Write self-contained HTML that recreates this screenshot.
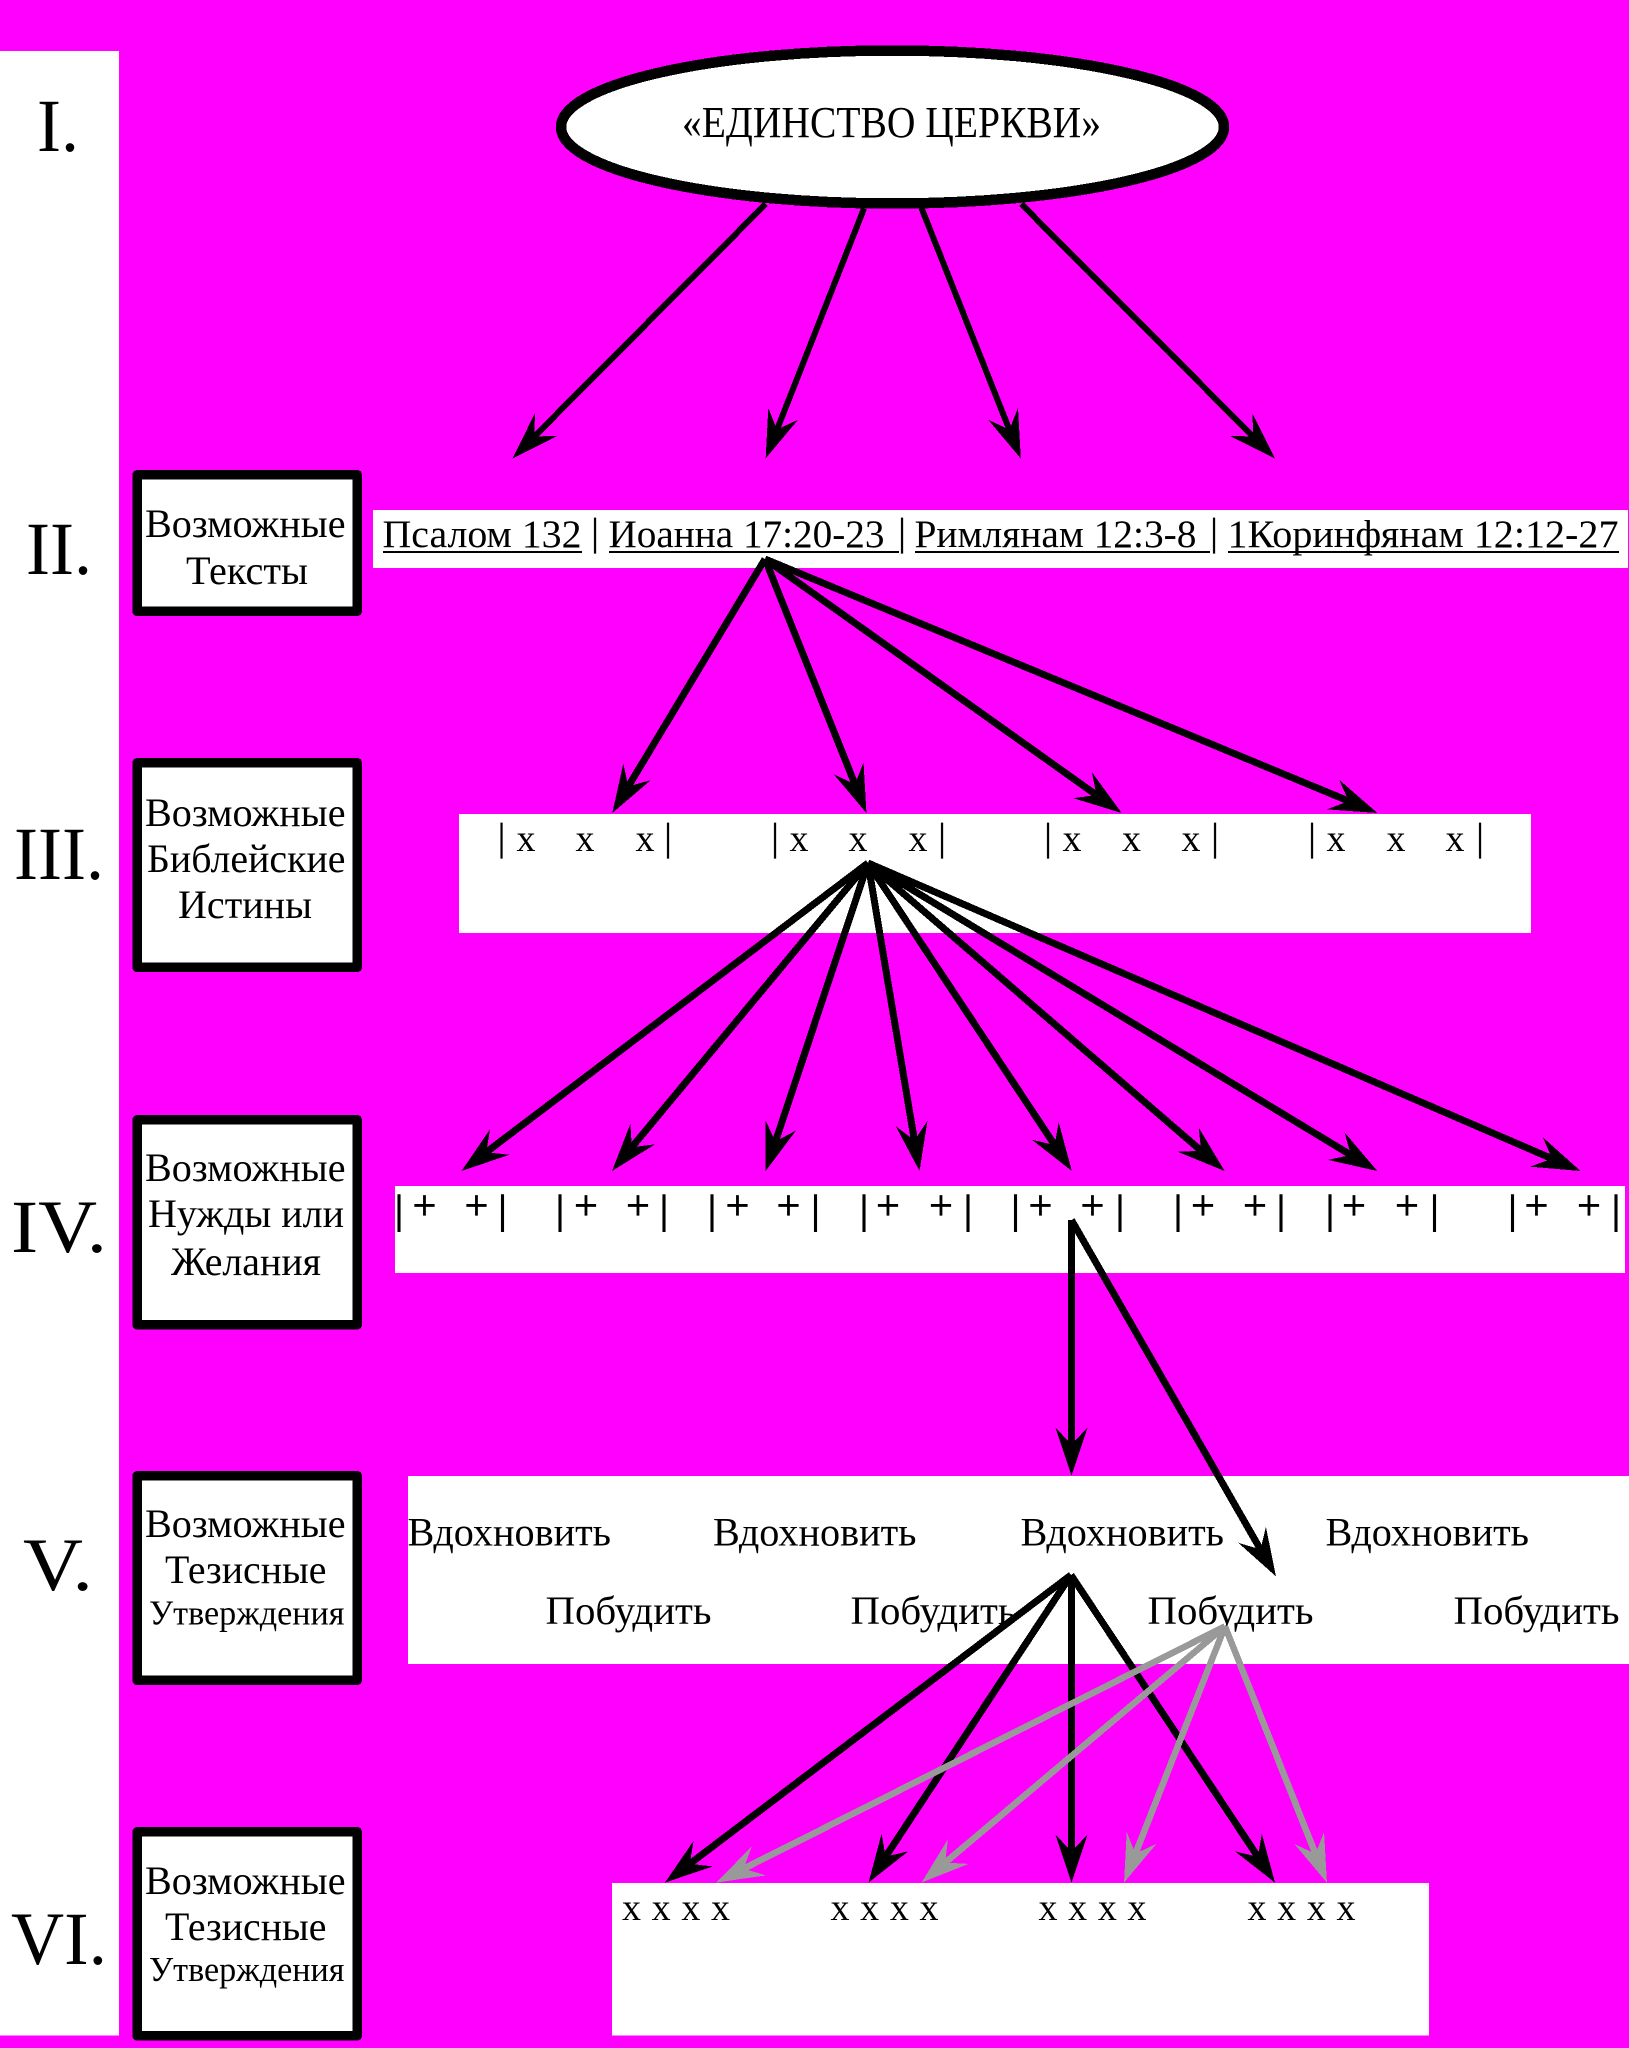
<!DOCTYPE html>
<html lang="ru">
<head>
<meta charset="utf-8">
<title>Единство церкви</title>
<style>
html,body{margin:0;padding:0;background:#f0f}
svg{display:block}
text{font-family:"Liberation Serif","DejaVu Serif",serif;fill:#000}
.t{font-size:40px}
.u{font-size:35px}
.n{font-size:75px}
.h{font-size:44px}
.p{font-size:39px}
.x{font-size:38px;text-anchor:middle}
.bar{font-size:39px;text-anchor:middle;stroke:#000;stroke-width:.3}
.pl{font-size:42px;text-anchor:middle;stroke:#000;stroke-width:.7}
.pp{font-size:40px;text-anchor:middle;stroke:#000;stroke-width:1.1}
.b{fill:#fff;stroke:#000;stroke-width:9.5;stroke-linejoin:round;shape-rendering:crispEdges}
.a{fill:none;stroke:#000;shape-rendering:crispEdges}
.g{fill:none;stroke:#999;stroke-width:6.5;shape-rendering:crispEdges}
.mk{marker-end:url(#mb)}
.mg{marker-end:url(#mc)}
</style>
</head>
<body>
<svg xmlns="http://www.w3.org/2000/svg" width="1629" height="2048" viewBox="0 0 1629 2048">
<defs>
<marker id="mb" markerUnits="userSpaceOnUse" markerWidth="60" markerHeight="40" refX="23" refY="16" orient="auto" overflow="visible"><polygon points="0,0 48,16 0,32 17,16" fill="#000" shape-rendering="crispEdges"/></marker>
<marker id="mc" markerUnits="userSpaceOnUse" markerWidth="60" markerHeight="40" refX="23" refY="16" orient="auto" overflow="visible"><polygon points="0,0 48,16 0,32 17,16" fill="#999" shape-rendering="crispEdges"/></marker>
</defs>
<rect width="1629" height="2048" fill="#f0f"/>
<rect x="0" y="51" width="119" height="1984.5" fill="#fff"/>

<!-- white bars -->
<rect x="373" y="510" width="1255" height="58" fill="#fff"/>
<rect x="459" y="814" width="1072" height="119" fill="#fff"/>
<rect x="395" y="1186" width="1230" height="87" fill="#fff"/>
<rect x="408" y="1476" width="1221" height="188" fill="#fff"/>
<rect x="612" y="1883" width="817" height="152.5" fill="#fff"/>

<!-- numerals -->
<text class="n" x="37" y="151" textLength="42" lengthAdjust="spacingAndGlyphs">I.</text>
<text class="n" x="26" y="574" textLength="66" lengthAdjust="spacingAndGlyphs">II.</text>
<text class="n" x="14" y="879" textLength="90" lengthAdjust="spacingAndGlyphs">III.</text>
<text class="n" x="11" y="1252" textLength="96" lengthAdjust="spacingAndGlyphs">IV.</text>
<text class="n" x="23" y="1590" textLength="70" lengthAdjust="spacingAndGlyphs">V.</text>
<text class="n" x="11" y="1964" textLength="96" lengthAdjust="spacingAndGlyphs">VI.</text>

<!-- label boxes -->
<rect class="b" x="137.2" y="474.8" width="220" height="136.5"/>
<rect class="b" x="137.2" y="762.8" width="220" height="204.5"/>
<rect class="b" x="137.2" y="1119.8" width="220" height="205"/>
<rect class="b" x="137.2" y="1475.8" width="220" height="204.5"/>
<rect class="b" x="137.2" y="1831.8" width="220" height="204"/>

<text class="t" x="145" y="537" textLength="200.5" lengthAdjust="spacingAndGlyphs">Возможные</text>
<text class="t" x="186" y="584" textLength="122" lengthAdjust="spacingAndGlyphs">Тексты</text>
<text class="t" x="145" y="826" textLength="200.5" lengthAdjust="spacingAndGlyphs">Возможные</text>
<text class="t" x="147" y="872" textLength="198.5" lengthAdjust="spacingAndGlyphs">Библейские</text>
<text class="t" x="178" y="918" textLength="134" lengthAdjust="spacingAndGlyphs">Истины</text>
<text class="t" x="145" y="1181" textLength="200.5" lengthAdjust="spacingAndGlyphs">Возможные</text>
<text class="t" x="148" y="1227" textLength="196" lengthAdjust="spacingAndGlyphs">Нужды или</text>
<text class="t" x="171" y="1275" textLength="150" lengthAdjust="spacingAndGlyphs">Желания</text>
<text class="t" x="145" y="1537" textLength="200.5" lengthAdjust="spacingAndGlyphs">Возможные</text>
<text class="t" x="165" y="1583" textLength="161.5" lengthAdjust="spacingAndGlyphs">Тезисные</text>
<text class="u" x="149" y="1624.5" textLength="195.5" lengthAdjust="spacingAndGlyphs">Утверждения</text>
<text class="t" x="145" y="1894" textLength="200.5" lengthAdjust="spacingAndGlyphs">Возможные</text>
<text class="t" x="165" y="1940" textLength="161.5" lengthAdjust="spacingAndGlyphs">Тезисные</text>
<text class="u" x="149" y="1981" textLength="195.5" lengthAdjust="spacingAndGlyphs">Утверждения</text>

<!-- level II -->
<text class="p" x="382.5" y="547" textLength="199" lengthAdjust="spacingAndGlyphs">Псалом 132</text>
<text class="p" x="608.5" y="547" textLength="276" lengthAdjust="spacingAndGlyphs">Иоанна 17:20-23</text>
<text class="p" x="914.5" y="547" textLength="282" lengthAdjust="spacingAndGlyphs">Римлянам 12:3-8</text>
<text class="p" x="1227.5" y="547" textLength="391" lengthAdjust="spacingAndGlyphs">1Коринфянам 12:12-27</text>
<text class="bar" x="595" y="545">|</text><text class="bar" x="902" y="545">|</text><text class="bar" x="1214" y="545">|</text>
<rect x="383" y="551" width="199" height="2"/>
<rect x="609" y="551" width="290" height="2"/>
<rect x="915" y="551" width="295" height="2"/>
<rect x="1228" y="551" width="391" height="2"/>

<!-- level III -->
<text class="bar" x="501.5" y="850">|</text><text class="x" x="526" y="851">x</text><text class="x" x="585" y="851">x</text><text class="x" x="645" y="851">x</text><text class="bar" x="668" y="850">|</text>
<text class="bar" x="775" y="850">|</text><text class="x" x="799" y="851">x</text><text class="x" x="858" y="851">x</text><text class="x" x="918" y="851">x</text><text class="bar" x="942" y="850">|</text>
<text class="bar" x="1048" y="850">|</text><text class="x" x="1072" y="851">x</text><text class="x" x="1131.5" y="851">x</text><text class="x" x="1191" y="851">x</text><text class="bar" x="1215" y="850">|</text>
<text class="bar" x="1312" y="850">|</text><text class="x" x="1336" y="851">x</text><text class="x" x="1396" y="851">x</text><text class="x" x="1455" y="851">x</text><text class="bar" x="1480" y="850">|</text>

<!-- level IV -->
<text class="pp" x="399" y="1223">|</text><text class="pl" x="424.5" y="1219.5">+</text><text class="pl" x="476.5" y="1219.5">+</text><text class="pp" x="502.5" y="1223">|</text>
<text class="pp" x="560" y="1223">|</text><text class="pl" x="586" y="1219.5">+</text><text class="pl" x="638" y="1219.5">+</text><text class="pp" x="664" y="1223">|</text>
<text class="pp" x="712" y="1223">|</text><text class="pl" x="737.5" y="1219.5">+</text><text class="pl" x="788.5" y="1219.5">+</text><text class="pp" x="815.5" y="1223">|</text>
<text class="pp" x="864" y="1223">|</text><text class="pl" x="888" y="1219.5">+</text><text class="pl" x="941" y="1219.5">+</text><text class="pp" x="968" y="1223">|</text>
<text class="pp" x="1015.5" y="1223">|</text><text class="pl" x="1040.5" y="1219.5">+</text><text class="pl" x="1092.5" y="1219.5">+</text><text class="pp" x="1120" y="1223">|</text>
<text class="pp" x="1178" y="1223">|</text><text class="pl" x="1203" y="1219.5">+</text><text class="pl" x="1255" y="1219.5">+</text><text class="pp" x="1281" y="1223">|</text>
<text class="pp" x="1330" y="1223">|</text><text class="pl" x="1354" y="1219.5">+</text><text class="pl" x="1407" y="1219.5">+</text><text class="pp" x="1434.5" y="1223">|</text>
<text class="pp" x="1512.5" y="1223">|</text><text class="pl" x="1536.5" y="1219.5">+</text><text class="pl" x="1589" y="1219.5">+</text><text class="pp" x="1616" y="1223">|</text>

<!-- level V -->
<text class="t" x="407.5" y="1545.5" textLength="203.5" lengthAdjust="spacingAndGlyphs">Вдохновить</text>
<text class="t" x="713" y="1545.5" textLength="203.5" lengthAdjust="spacingAndGlyphs">Вдохновить</text>
<text class="t" x="1020.5" y="1545.5" textLength="203.5" lengthAdjust="spacingAndGlyphs">Вдохновить</text>
<text class="t" x="1325.5" y="1545.5" textLength="203.5" lengthAdjust="spacingAndGlyphs">Вдохновить</text>
<text class="t" x="545.5" y="1624" textLength="166" lengthAdjust="spacingAndGlyphs">Побудить</text>
<text class="t" x="850.5" y="1624" textLength="166" lengthAdjust="spacingAndGlyphs">Побудить</text>
<text class="t" x="1147.5" y="1624" textLength="166" lengthAdjust="spacingAndGlyphs">Побудить</text>
<text class="t" x="1453.5" y="1624" textLength="166" lengthAdjust="spacingAndGlyphs">Побудить</text>

<!-- level VI -->
<text class="x" x="676" y="1920" textLength="108" lengthAdjust="spacing">x x x x</text>
<text class="x" x="884.5" y="1920" textLength="108" lengthAdjust="spacing">x x x x</text>
<text class="x" x="1092.5" y="1920" textLength="108" lengthAdjust="spacing">x x x x</text>
<text class="x" x="1301.5" y="1920" textLength="108" lengthAdjust="spacing">x x x x</text>

<!-- ellipse arrows -->
<g class="a" stroke-width="6">
<path class="mk" d="M765.6 204L530.1 440.8"/>
<path class="mk" d="M864 208.5L774.8 435.2"/>
<path class="mk" d="M921.5 208L1011.6 435.3"/>
<path class="mk" d="M1021.3 204L1257.4 440.8"/>
</g>

<!-- ellipse -->
<ellipse cx="892.5" cy="127" rx="331.5" ry="76.5" fill="#fff" stroke="#000" stroke-width="10.5" shape-rendering="crispEdges"/>
<text class="h" x="682" y="137" textLength="419" lengthAdjust="spacingAndGlyphs">«ЕДИНСТВО ЦЕРКВИ»</text>

<!-- II to III -->
<g class="a" stroke-width="7">
<path class="mk" d="M765 559L625.2 791.6"/>
<path class="mk" d="M765 559L857.2 789.8"/>
<path class="mk" d="M765 559L1101.3 798.5"/>
<path class="mk" d="M765 559L1354.3 803.4"/>
</g>

<!-- III to IV -->
<g class="a" stroke-width="7">
<path class="mk" d="M868 863L481.4 1155.9"/>
<path class="mk" d="M868 863L628 1151.8"/>
<path class="mk" d="M868 863L773.5 1147.3"/>
<path class="mk" d="M868 863L915.4 1146.3"/>
<path class="mk" d="M868 863L1058 1150.1"/>
<path class="mk" d="M868 863L1205.7 1154.7"/>
<path class="mk" d="M868 863L1356 1158.1"/>
<path class="mk" d="M868 863L1557.6 1161.1"/>
</g>

<!-- IV to V -->
<g class="a" stroke-width="7">
<path class="mk" d="M1071.5 1220L1071.5 1450.6"/>
<path class="mk" d="M1071.5 1220L1263.5 1554.7"/>
</g>

<!-- V to VI black -->
<g class="a" stroke-width="7">
<path class="mk" d="M1071 1575L684.9 1867.5"/>
<path class="mk" d="M1071 1575L882.3 1861.7"/>
<path class="mk" d="M1071.5 1575L1071.5 1857.6"/>
<path class="mk" d="M1071 1575L1261.2 1861.8"/>
</g>

<!-- V to VI grey -->
<g class="g">
<path class="mg" d="M1225 1626.4L738.3 1871.4"/>
<path class="mg" d="M1225 1626.4L940.6 1866.5"/>
<path class="mg" d="M1225 1626.4L1133.2 1859.3"/>
<path class="mg" d="M1225 1626.4L1317.7 1859.4"/>
</g>
</svg>
</body>
</html>
